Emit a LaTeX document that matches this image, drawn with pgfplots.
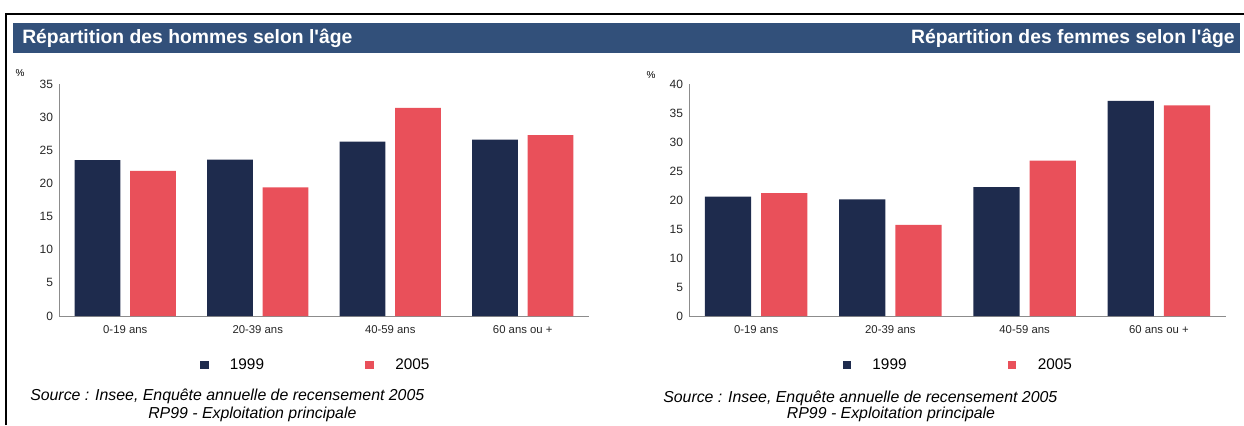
\documentclass[border=0pt]{standalone}
\usepackage{pgfplots}
\usepackage{pgfplotstable}
\pgfplotsset{compat=1.18}
\usepackage{fontspec}
\setmainfont{Liberation Sans}[Ligatures=TeXOff]

\definecolor{navy}{HTML}{1E2B4D}
\definecolor{rouge}{HTML}{E9505A}
\definecolor{bandeau}{HTML}{32507A}
\definecolor{axe}{HTML}{8C8C8C}

% parts in % by age group
\pgfplotstableread{
pos y1999 y2005
0.5 23.5 21.9
1.5 23.6 19.4
2.5 26.3 31.4
3.5 26.6 27.3
}\hommes
\pgfplotstableread{
pos y1999 y2005
0.5 20.6 21.2
1.5 20.1 15.7
2.5 22.2 26.8
3.5 37.1 36.3
}\femmes

\pgfplotsset{repart/.style={
    scale only axis, height=174pt,
    xmin=0, xmax=4, ymin=0,
    axis x line*=bottom, axis y line*=left,
    axis line style={axe, line width=0.6pt, -},
    ybar, bar width=0.345,
    xtick={0.5,1.5,2.5,3.5},
    xticklabels={0-19 ans, 20-39 ans, 40-59 ans, 60 ans ou +},
    ytick distance=5,
    major tick length=0pt,
    /pgf/number format/assume math mode=true,
    xticklabel style={font=\fontsize{8.5}{10}\selectfont, text=black!85, yshift=-3.5pt},
    yticklabel style={font=\fontsize{9}{10}\selectfont, text=black!85, xshift=-1pt},
    legend columns=2,
    legend style={draw=none, fill=none, anchor=center,
        font=\fontsize{11.5}{13}\selectfont,
        /tikz/every odd column/.append style={column sep=14pt},
        /tikz/every even column/.append style={column sep=74pt}},
    legend image code/.code={\fill[##1] (0pt,-3.2pt) rectangle (6.4pt,3.2pt);},
}}

\begin{document}
\begin{tikzpicture}
\path[use as bounding box] (0,0) rectangle (933pt,-318.75pt);
% frame and header band
\draw[line width=1.4pt] (4.5pt,-318.75pt) -- (4.5pt,-10.2pt) -- (933pt,-10.2pt);
\fill[bandeau] (9.75pt,-16.9pt) rectangle (930pt,-40pt);
\node[anchor=west, inner sep=0, text=white, font=\fontsize{14.5}{16}\selectfont\bfseries]
    at (16.5pt,-28.5pt) {Répartition des hommes selon l'âge};
\node[anchor=east, inner sep=0, text=white, font=\fontsize{14.5}{16}\selectfont\bfseries]
    at (926.25pt,-28.5pt) {Répartition des femmes selon l'âge};

% men
\begin{axis}[repart, at={(44.25pt,-237pt)}, anchor=south west,
    width=397.5pt, ymax=35,
    legend style={at={(0.485,-0.211)}}]
\addplot[fill=navy, draw=none, bar shift=-0.21] table[x=pos, y=y1999] {\hommes};
\addplot[fill=rouge, draw=none, bar shift=0.21] table[x=pos, y=y2005] {\hommes};
\legend{1999, 2005}
\end{axis}
\node[font=\fontsize{7.5}{8}\selectfont] at (15pt,-54.75pt) {\%};

% women
\begin{axis}[repart, at={(516.75pt,-237pt)}, anchor=south west,
    width=402.75pt, ymax=40,
    legend style={at={(0.502,-0.211)}}]
\addplot[fill=navy, draw=none, bar shift=-0.21] table[x=pos, y=y1999] {\femmes};
\addplot[fill=rouge, draw=none, bar shift=0.21] table[x=pos, y=y2005] {\femmes};
\legend{1999, 2005}
\end{axis}
\node[font=\fontsize{7.5}{8}\selectfont] at (488.25pt,-56.25pt) {\%};

% sources
\node[anchor=west, inner sep=0, font=\fontsize{11.9}{13}\selectfont\itshape] at (22.5pt,-297.5pt)
    {Source : Insee, Enquête annuelle de recensement 2005};
\node[anchor=west, inner sep=0, font=\fontsize{11.9}{13}\selectfont\itshape] at (111pt,-311pt)
    {RP99 - Exploitation principale};
\node[anchor=west, inner sep=0, font=\fontsize{11.9}{13}\selectfont\itshape] at (497.25pt,-299pt)
    {Source : Insee, Enquête annuelle de recensement 2005};
\node[anchor=west, inner sep=0, font=\fontsize{11.9}{13}\selectfont\itshape] at (590pt,-311pt)
    {RP99 - Exploitation principale};
\end{tikzpicture}
\end{document}
